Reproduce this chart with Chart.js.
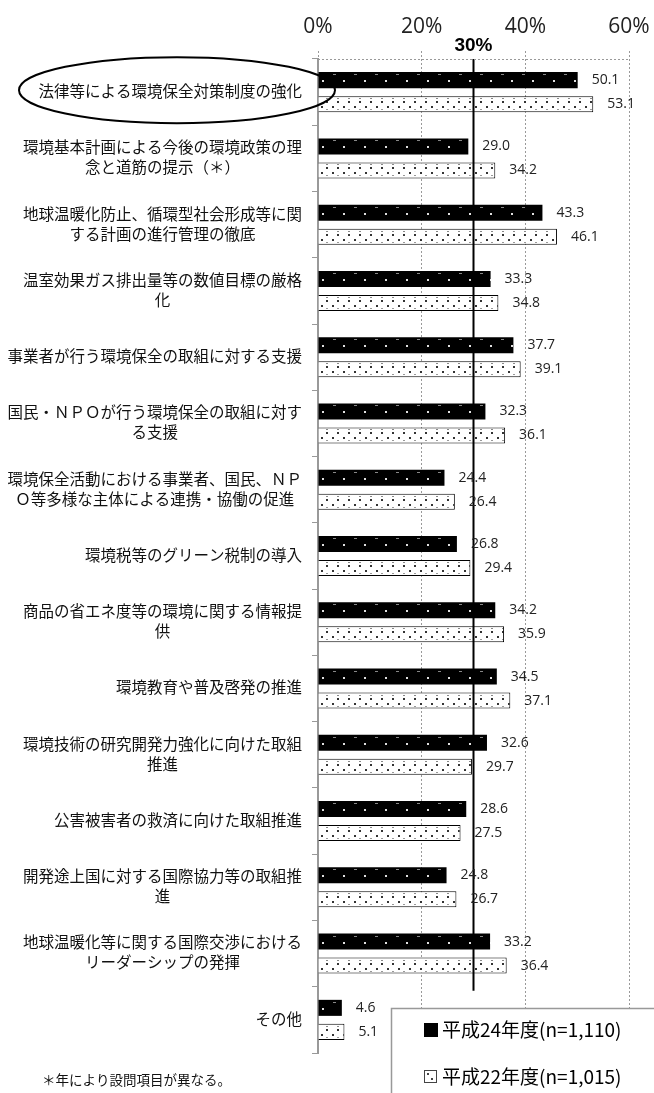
<!DOCTYPE html>
<html lang="ja">
<head>
<meta charset="utf-8">
<script src="https://cdn.jsdelivr.net/npm/chart.js@4.4.1/dist/chart.umd.min.js"></script>
<style>
  html, body { margin: 0; padding: 0; background: #fff; }
  canvas { display: block; }
</style>
</head>
<body>
<canvas id="chart" width="654" height="1093"></canvas>
<script>
// Survey items (multi-line labels kept as in the original layout)
const categories = [
    '法律等による環境保全対策制度の強化',
    ['環境基本計画による今後の環境政策の理', '念と道筋の提示（＊）'],
    ['地球温暖化防止、循環型社会形成等に関', 'する計画の進行管理の徹底'],
    ['温室効果ガス排出量等の数値目標の厳格', '化'],
    '事業者が行う環境保全の取組に対する支援',
    ['国民・ＮＰＯが行う環境保全の取組に対す', 'る支援'],
    ['環境保全活動における事業者、国民、ＮＰ', 'Ｏ等多様な主体による連携・協働の促進'],
    '環境税等のグリーン税制の導入',
    ['商品の省エネ度等の環境に関する情報提', '供'],
    '環境教育や普及啓発の推進',
    ['環境技術の研究開発力強化に向けた取組', '推進'],
    '公害被害者の救済に向けた取組推進',
    ['開発途上国に対する国際協力等の取組推', '進'],
    ['地球温暖化等に関する国際交渉における', 'リーダーシップの発揮'],
    'その他'
];
const h24Values = [50.1, 29.0, 43.3, 33.3, 37.7, 32.3, 24.4, 26.8, 34.2, 34.5, 32.6, 28.6, 24.8, 33.2, 4.6];
const h22Values = [53.1, 34.2, 46.1, 34.8, 39.1, 36.1, 26.4, 29.4, 35.9, 37.1, 29.7, 27.5, 26.7, 36.4, 5.1];
const seriesNames = ['平成24年度(n=1,110)', '平成22年度(n=1,015)'];
const xTicks = [0, 20, 40, 60];
const referenceLine = 30;
const footnote = '＊年により設問項目が異なる。';

const CAT_PCT = 0.725;
const BAR_PCT = 0.667;
const JP_FONT = '"Noto Sans CJK JP", "Noto Sans", sans-serif';

// small tiles for the bar fills
function makeTile(kind) {
    const c = document.createElement('canvas');
    const g = c.getContext('2d');
    if (kind === 'dark') {
        c.width = 21; c.height = 16;
        g.fillStyle = '#000'; g.fillRect(0, 0, 21, 16);
        g.fillStyle = '#888'; g.fillRect(15, 2, 3, 1);
        g.fillStyle = '#e0e0e0'; g.fillRect(4, 8, 2, 2);
    } else {
        c.width = 11; c.height = 16;
        g.fillStyle = '#fff'; g.fillRect(0, 0, 11, 16);
        g.fillStyle = '#888'; g.fillRect(8, 2, 2, 1);
        g.fillStyle = '#333'; g.fillRect(8, 5, 2, 2); g.fillRect(3, 10, 2, 2);
        g.fillStyle = '#999'; g.fillRect(8, 13, 2, 1);
    }
    return c;
}

function barFill(kind, plain) {
    const tile = makeTile(kind);
    return function(ctx) {
        const chart = ctx.chart;
        const ys = chart.scales.y, xs = chart.scales.x;
        if (ctx.type !== 'data' || !ys || !xs) return plain;
        const pitch = ys.getPixelForValue(1) - ys.getPixelForValue(0);
        const slot = pitch * CAT_PCT / 2;
        const size = slot * BAR_PCT;
        const top = ys.getPixelForValue(ctx.dataIndex) + (ctx.datasetIndex - 0.5) * slot - size / 2;
        const pattern = chart.ctx.createPattern(tile, 'repeat');
        pattern.setTransform(new DOMMatrix().translate(Math.round(xs.left), Math.round(top)));
        return pattern;
    };
}

// 30% line + value labels
const overlay = {
    id: 'overlay',
    afterDatasetsDraw(chart) {
        const g = chart.ctx;
        const xs = chart.scales.x, ys = chart.scales.y;
        const area = chart.chartArea;
        const x30 = xs.getPixelForValue(referenceLine);
        g.save();
        g.strokeStyle = '#000';
        g.lineWidth = 2;
        g.beginPath();
        g.moveTo(x30, area.top);
        g.lineTo(x30, ys.getPixelForValue(13.56));
        g.stroke();

        g.font = '14px "Open Sans", sans-serif';
        g.fillStyle = '#222';
        g.textBaseline = 'middle';
        chart.data.datasets.forEach((ds, di) => {
            chart.getDatasetMeta(di).data.forEach((bar, i) => {
                g.fillText(ds.data[i].toFixed(1), bar.x + 14, bar.y);
            });
        });
        g.restore();
    },
    afterDraw(chart) {
        const g = chart.ctx;
        const xs = chart.scales.x, ys = chart.scales.y;
        const area = chart.chartArea;
        g.save();

        // dotted frame top
        g.strokeStyle = '#999';
        g.lineWidth = 1;
        g.setLineDash([2, 2]);
        g.beginPath();
        g.moveTo(area.left, area.top + 0.5);
        g.lineTo(area.right, area.top + 0.5);
        g.stroke();
        g.setLineDash([]);

        // "30%" label
        g.font = 'bold 19px "Liberation Sans Narrow", "Liberation Sans", sans-serif';
        g.fillStyle = '#000';
        g.textAlign = 'center';
        g.textBaseline = 'middle';
        g.fillText(referenceLine + '%', xs.getPixelForValue(referenceLine), area.top - 13);

        // category labels: lines centred, block right-aligned
        g.font = '15.5px ' + JP_FONT;
        g.fillStyle = '#111';
        const right = area.left - 16;
        categories.forEach((cat, i) => {
            const lines = Array.isArray(cat) ? cat : [cat];
            const w = Math.max(...lines.map(l => g.measureText(l).width));
            const cx = right - w / 2;
            const cy = ys.getPixelForValue(i) - 1;
            lines.forEach((l, k) => {
                g.fillText(l, cx, cy + (k - (lines.length - 1) / 2) * 20);
            });
        });

        // ellipse around the first item
        g.strokeStyle = '#000';
        g.lineWidth = 2;
        g.beginPath();
        g.ellipse(177, ys.getPixelForValue(0) - 2, 158, 33, 0, 0, Math.PI * 2);
        g.stroke();

        // legend box
        const lx = 391, ly = 1008;
        g.fillStyle = '#fff';
        g.fillRect(lx, ly, 300, 120);
        g.strokeStyle = '#999';
        g.lineWidth = 1.5;
        g.strokeRect(lx + 0.5, ly + 0.5, 300, 120);

        g.textAlign = 'left';
        g.font = '19px ' + JP_FONT;
        g.fillStyle = '#000';
        g.fillRect(424, 1023, 14, 14);
        g.fillText(seriesNames[0], 442, 1030);

        g.fillStyle = '#fff';
        g.fillRect(424, 1070, 13, 13);
        g.strokeStyle = '#444';
        g.lineWidth = 1;
        g.strokeRect(424.5, 1070.5, 12, 12);
        g.fillStyle = '#444';
        g.fillRect(427, 1073, 2, 2);
        g.fillRect(431, 1078, 2, 2);
        g.fillStyle = '#000';
        g.fillText(seriesNames[1], 442, 1077);

        // footnote
        g.font = '13.5px ' + JP_FONT;
        g.fillStyle = '#111';
        g.fillText(footnote, 42, 1080);
        g.restore();
    }
};

const ctx = document.getElementById('chart').getContext('2d');
new Chart(ctx, {
    type: 'bar',
    data: {
        labels: categories,
        datasets: [{
            label: seriesNames[0],
            data: h24Values,
            backgroundColor: barFill('dark', '#000'),
            borderWidth: 0,
            categoryPercentage: CAT_PCT,
            barPercentage: BAR_PCT
        }, {
            label: seriesNames[1],
            data: h22Values,
            backgroundColor: barFill('light', '#fff'),
            borderColor: '#000',
            borderWidth: 1,
            categoryPercentage: CAT_PCT,
            barPercentage: BAR_PCT
        }]
    },
    options: {
        indexAxis: 'y',
        responsive: false,
        animation: false,
        layout: { padding: { top: 0, right: 25, bottom: 40, left: 0 } },
        plugins: {
            legend: { display: false },
            tooltip: { enabled: false }
        },
        scales: {
            x: {
                position: 'top',
                min: 0,
                max: 60,
                afterBuildTicks: scale => { scale.ticks = xTicks.map(v => ({ value: v })); },
                afterFit: scale => {
                    scale.height = 59;
                    scale.paddingLeft = 0;
                    scale.paddingRight = 0;
                },
                ticks: {
                    callback: v => v + '%',
                    font: { family: '"Open Sans", sans-serif', size: 21 },
                    color: '#222',
                    padding: 11,
                    maxRotation: 0
                },
                grid: {
                    color: '#999',
                    lineWidth: 1,
                    tickLength: 8,
                    tickBorderDash: [2, 2]
                },
                border: { display: false, dash: [2, 2] }
            },
            y: {
                afterFit: scale => { scale.width = 318; },
                ticks: { display: false },
                grid: {
                    offset: true,
                    drawOnChartArea: false,
                    color: '#999',
                    tickLength: 6
                },
                border: { display: true, color: '#999', width: 2 }
            }
        }
    },
    plugins: [overlay]
});
</script>
</body>
</html>
